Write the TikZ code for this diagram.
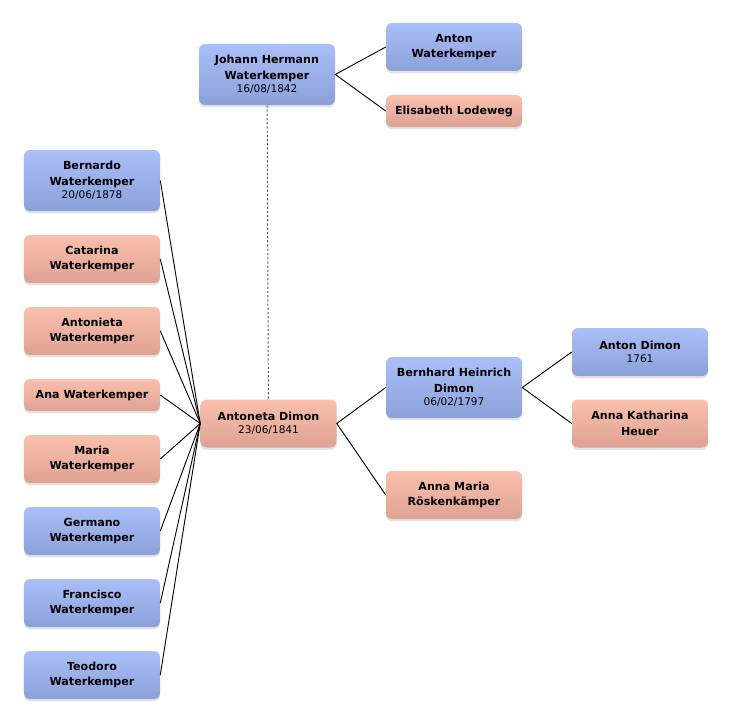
\documentclass[tikz,border=0pt]{standalone}
\usepackage{fontspec}
\setsansfont{DejaVu Sans}
\usetikzlibrary{shadows}

\definecolor{maletop}{RGB}{170,190,248}
\definecolor{malebot}{RGB}{140,160,218}
\definecolor{femtop}{RGB}{250,192,172}
\definecolor{fembot}{RGB}{222,162,146}

\tikzset{
	person/.style={rounded corners=1.5mm, minimum width=34mm, inner sep=0pt, align=center,
		font=\sffamily\bfseries\fontsize{7.9}{11}\selectfont,
		drop shadow={shadow xshift=0pt, shadow yshift=-0.6mm, opacity=0.22}},
	male/.style={person, top color=maletop, bottom color=malebot},
	female/.style={person, top color=femtop, bottom color=fembot},
	l1/.style={minimum height=8mm},
	l2/.style={minimum height=12mm},
	l3/.style={minimum height=15.25mm},
	link/.style={line width=0.65pt, black}
}
\newcommand{\born}[1]{\\[-1.6pt]{\mdseries\fontsize{7.5}{9}\selectfont #1}}

\begin{document}
\begin{tikzpicture}[x=0.25mm, y=-0.25mm]
	\useasboundingbox (0,0) rectangle (732,723);
	
	% ancestors
	\node[male, l3] (jh) at (267,74.5) {Johann Hermann\\Waterkemper\born{16/08/1842}};
	\node[male, l2] (aw) at (454,47) {Anton\\Waterkemper};
	\node[female, l1] (el) at (454,111) {Elisabeth Lodeweg};
	\node[female, l2] (ad) at (268.5,423.5) {Antoneta Dimon\born{23/06/1841}};
	\node[male, l3] (bd) at (454,387.5) {Bernhard Heinrich\\Dimon\born{06/02/1797}};
	\node[female, l2] (ar) at (454,495) {Anna Maria\\Röskenkämper};
	\node[male, l2] (and) at (640,352) {Anton Dimon\born{1761}};
	\node[female, l2] (ak) at (640,423.5) {Anna Katharina\\Heuer};
	
	% children
	\node[male, l3] (c1) at (92,180.5) {Bernardo\\Waterkemper\born{20/06/1878}};
	\node[female, l2] (c2) at (92,259) {Catarina\\Waterkemper};
	\node[female, l2] (c3) at (92,331) {Antonieta\\Waterkemper};
	\node[female, l1] (c4) at (92,395) {Ana Waterkemper};
	\node[female, l2] (c5) at (92,459) {Maria\\Waterkemper};
	\node[male, l2] (c6) at (92,531) {Germano\\Waterkemper};
	\node[male, l2] (c7) at (92,603) {Francisco\\Waterkemper};
	\node[male, l2] (c8) at (92,675) {Teodoro\\Waterkemper};
	
	\draw[gray!70!black, line width=0.7pt, dash pattern=on 1.6pt off 1.4pt] (jh) -- (ad);
	
	\draw[link] (aw.west) -- (jh.east) -- (el.west);
	\draw[link] (bd.west) -- (ad.east) -- (ar.west);
	\draw[link] (and.west) -- (bd.east) -- (ak.west);
	
	\foreach \c in {c1,c2,c3,c4,c5,c6,c7,c8}
		\draw[link] (\c.east) -- (ad.west);
\end{tikzpicture}
\end{document}
